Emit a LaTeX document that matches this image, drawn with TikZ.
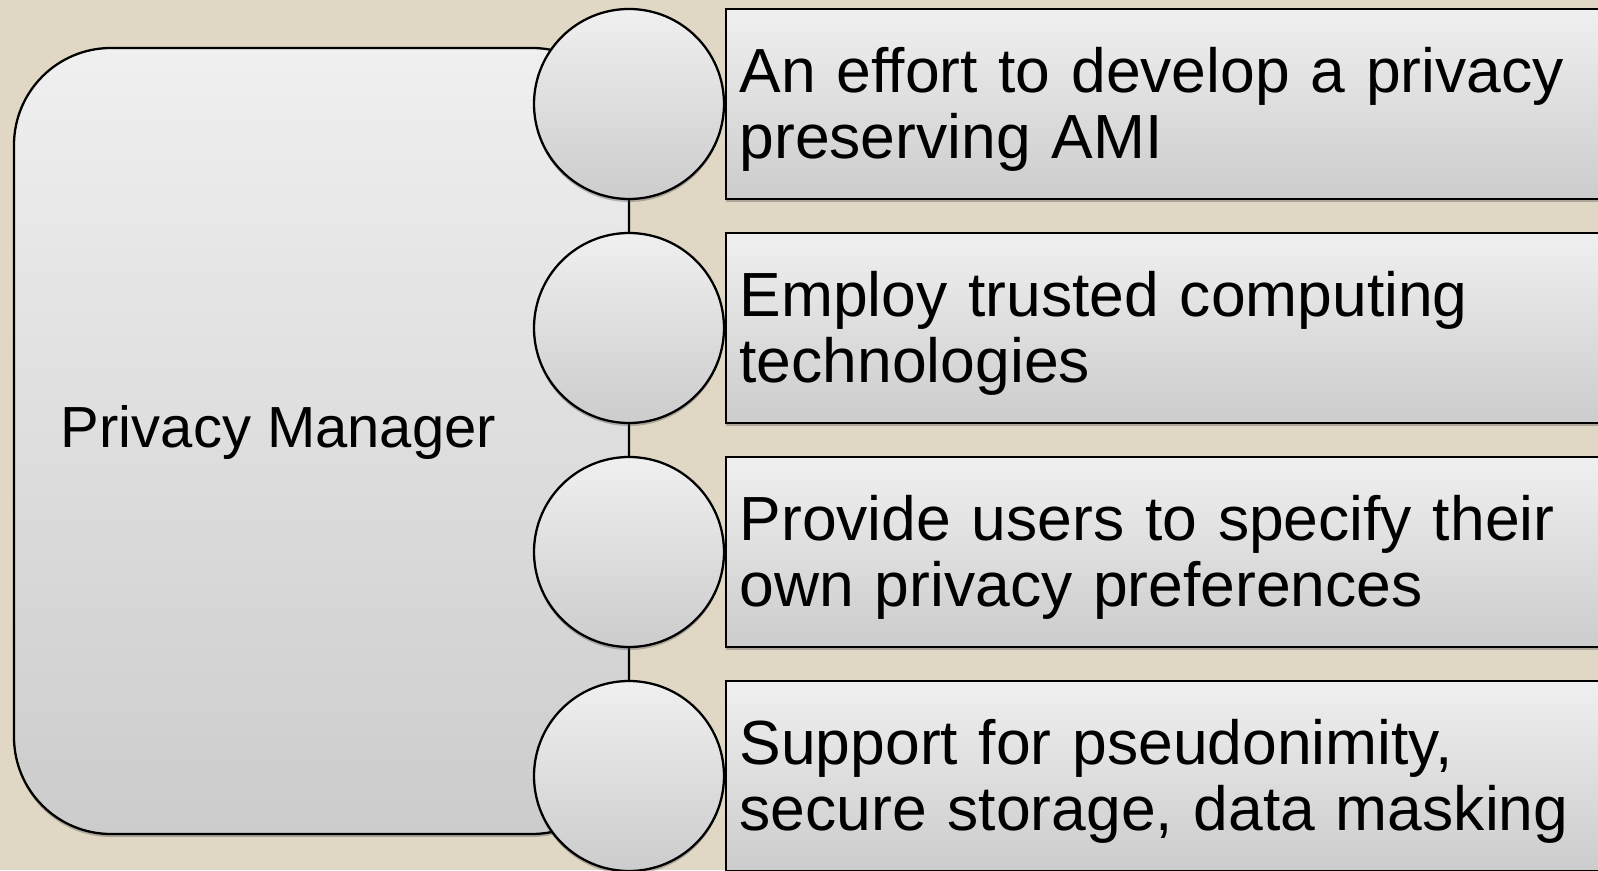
\documentclass[tikz,border=0pt]{standalone}
\usepackage{fontspec}
\setmainfont{Liberation Sans}
\usepackage{tikz}
\usetikzlibrary{shadows}
\definecolor{sand}{RGB}{224,215,196}

\tikzset{
  soft/.style={drop shadow={shadow xshift=0pt, shadow yshift=-0.06cm, opacity=0.35, fill=black!70}},
  greyfill/.style={top color=gray!12, bottom color=gray!40, draw=black, line width=1.3pt},
  bigbox/.style={greyfill, soft, rounded corners=1.94cm, minimum width=12.3cm, minimum height=15.72cm, inner sep=0pt},
  dot/.style={greyfill, soft, circle, minimum size=3.8cm, inner sep=0pt},
  itembox/.style={greyfill, soft, rectangle, anchor=west, minimum height=3.8cm, minimum width=18cm,
    text width=17.44cm, inner xsep=0.28cm, inner ysep=0pt, align=left,
    font=\fontsize{35.5}{37.8}\selectfont, execute at begin node={\rule{0pt}{1.11cm}}}
}

\begin{document}
\begin{tikzpicture}
  % background
  \fill[sand] (0,0) rectangle (31.96,17.4);
  \useasboundingbox (0,0) rectangle (31.96,17.4);
  % left panel
  \node[bigbox] (manager) at (6.43,8.58) {};
  \node[font=\fontsize{33}{36}\selectfont, anchor=base] (mlabel) at (5.57,8.44) {Privacy Manager};
  % circles on the right edge of the panel
  \foreach \i/\y in {1/15.32, 2/10.84, 3/6.36, 4/1.88} {
    \node[dot] (c\i) at (12.58,\y) {};
  }
  % item boxes
  \node[itembox] (b1) at (14.49,15.32) {An effort to develop a privacy\\preserving AMI};
  \node[itembox] (b2) at (14.49,10.84) {Employ trusted computing\\technologies};
  \node[itembox] (b3) at (14.49,6.36) {Provide users to specify their\\own privacy preferences};
  \node[itembox] (b4) at (14.49,1.88) {Support for pseudonimity,\\secure storage, data masking};
\end{tikzpicture}
\end{document}
